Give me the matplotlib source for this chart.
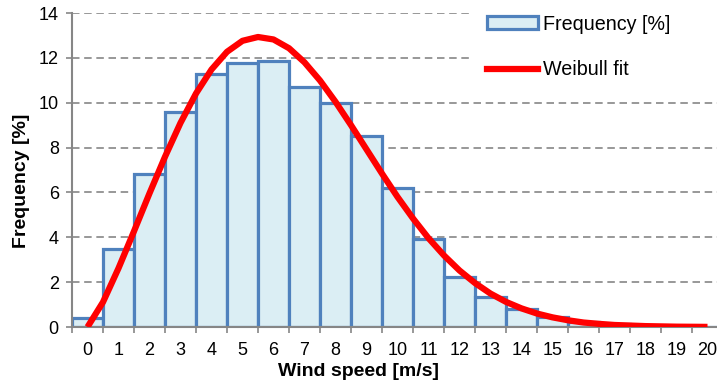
# Wind speed distribution: frequency histogram with a Weibull fit
import matplotlib.pyplot as plt
from matplotlib.patches import Patch
from matplotlib.lines import Line2D

plt.rcParams["font.family"] = ["Liberation Sans", "DejaVu Sans"]

# --- data ---
wind_speed = list(range(0, 21))
frequency = [0.4, 3.5, 6.8, 9.6, 11.3, 11.75, 11.85, 10.7, 10.0, 8.5,
             6.2, 3.93, 2.25, 1.33, 0.8, 0.46, 0.24, 0.13, 0.06, 0.03, 0.01]

fit_speed = [0, 0.5, 1, 1.5, 2, 2.5, 3, 3.5, 4, 4.5, 5, 5.5, 6, 6.5, 7, 7.5,
             8, 8.5, 9, 9.5, 10, 10.5, 11, 11.5, 12, 12.5, 13, 13.5, 14, 14.5,
             15, 15.5, 16, 16.5, 17, 18, 19, 20]
fit_freq = [0.0, 1.11, 2.62, 4.27, 5.96, 7.59, 9.10, 10.41, 11.48, 12.27,
            12.76, 12.93, 12.82, 12.43, 11.80, 10.99, 10.04, 9.00, 7.92, 6.84,
            5.80, 4.84, 3.96, 3.19, 2.52, 1.96, 1.49, 1.12, 0.83, 0.60,
            0.43, 0.30, 0.20, 0.14, 0.09, 0.04, 0.015, 0.005]

y_ticks = [0, 2, 4, 6, 8, 10, 12, 14]

bar_fill = "#DBEEF4"
bar_edge = "#4F81BD"
grid_col = "#868686"
axis_col = "#868686"

fig = plt.figure(figsize=(7.17, 3.87), dpi=100)
ax = fig.add_axes([72 / 717, 1 - 327 / 387, (723 - 72) / 717, (327 - 13) / 387])

ax.bar(wind_speed, frequency, width=1.0, color=bar_fill, edgecolor=bar_edge,
       linewidth=2.3, zorder=2)
ax.plot(fit_speed, fit_freq, color="#FF0000", linewidth=4.5,
        solid_capstyle="butt", solid_joinstyle="round", zorder=3)

ax.set_xlim(-0.5, 20.5)
ax.set_ylim(0, 14)

# y axis
ax.set_yticks(y_ticks)
ax.yaxis.grid(True, linestyle=(0, (4.5, 2.8)), color=grid_col, linewidth=1.2, zorder=0)
ax.set_axisbelow(True)
ax.tick_params(axis="y", direction="out", length=4.5, width=1.2, color=axis_col,
               labelsize=13, pad=5)

# x axis: labels at centres, tick marks at category boundaries
ax.set_xticks(wind_speed)
ax.set_xticks([i - 0.5 for i in range(0, 22)], minor=True)
ax.tick_params(axis="x", which="major", length=0, labelsize=13, pad=11)
ax.tick_params(axis="x", which="minor", direction="out", length=4.5, width=1.2,
               color=axis_col)

for side in ["top", "right"]:
    ax.spines[side].set_visible(False)
for side in ["left", "bottom"]:
    ax.spines[side].set_color(axis_col)
    ax.spines[side].set_linewidth(1.5)

fig.text(358 / 717, 1 - 372 / 387, "Wind speed [m/s]", ha="center", va="center",
         fontsize=14, fontweight="bold")
fig.text(22 / 717, 1 - 181 / 387, "Frequency [%]", ha="center", va="center",
         rotation=90, fontsize=14, fontweight="bold")

# legend on a white box reaching the right edge (hides the grid behind it)
handles = [Patch(facecolor=bar_fill, edgecolor=bar_edge, linewidth=2.3),
           Line2D([0], [0], color="#FF0000", linewidth=4.5)]
leg = fig.legend(handles, ["Frequency [%]", "Weibull fit"], loc="upper left",
                 bbox_to_anchor=(472 / 717, 0, 1 - 472 / 717, 1.0), mode="expand",
                 frameon=True, fontsize=14.2,
                 handlelength=2.6, handleheight=0.65, handletextpad=0.25,
                 labelspacing=1.35, borderpad=0.75, borderaxespad=0)
leg.get_frame().set_facecolor("white")
leg.get_frame().set_edgecolor("none")
leg.get_frame().set_alpha(1)

fig.savefig("out.png", dpi=100)
